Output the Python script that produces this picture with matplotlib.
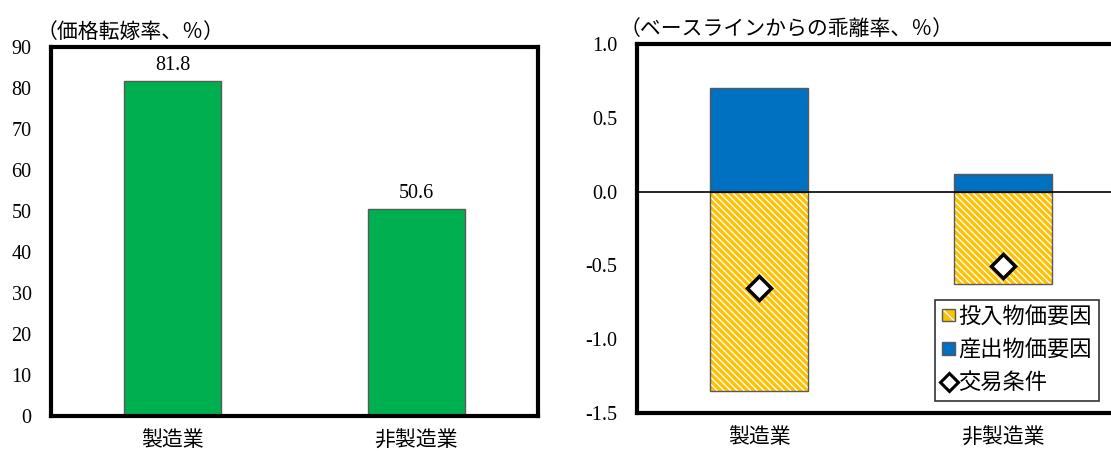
import matplotlib
matplotlib.use('Agg')
import matplotlib.pyplot as plt
import matplotlib.patches as mpatches
from matplotlib.lines import Line2D
from matplotlib.legend_handler import HandlerPatch

plt.rcParams['font.family'] = ['Liberation Serif', 'Noto Sans CJK JP']
plt.rcParams['hatch.linewidth'] = 1.0

# left panel data
categories = ['製造業', '非製造業']
pass_through = [81.8, 50.6]

# right panel data
input_factor = [-1.35, -0.625]
output_factor = [0.70, 0.12]
terms_of_trade = [-0.652, -0.506]

left_ticks = [0, 10, 20, 30, 40, 50, 60, 70, 80, 90]
right_ticks = [-1.5, -1.0, -0.5, 0.0, 0.5, 1.0]

W, H = 1111, 453
fig = plt.figure(figsize=(W / 100, H / 100), dpi=100)

def px_axes(x0, y0, x1, y1):
    return fig.add_axes([x0 / W, 1 - y1 / H, (x1 - x0) / W, (y1 - y0) / H])

yellow = '#FFC000'
blue = '#0070C0'
hatch = '\\' * 5
pos = [0, 1]

# ---- left: pass-through rate
ax1 = px_axes(51, 47, 538, 416)
ax1.bar(pos, pass_through, width=0.4, color='#00B050', edgecolor='#595959', linewidth=1)
for x, v in zip(pos, pass_through):
    ax1.text(x, v + 1.3, f'{v:.1f}', ha='center', va='bottom', fontsize=14.5)
ax1.set_xlim(-0.5, 1.5)
ax1.set_ylim(0, 90)
ax1.set_yticks(left_ticks)
ax1.set_xticks(pos)
ax1.set_xticklabels(categories)
ax1.text(-0.03, 1.012, '（価格転嫁率、％）', transform=ax1.transAxes, fontsize=15, ha='left', va='bottom')

# ---- right: deviation from baseline
ax2 = px_axes(637, 44, 1125, 413)
ax2.bar(pos, output_factor, width=0.4, color=blue, edgecolor='#595959', linewidth=1)
ax2.bar(pos, input_factor, width=0.4, facecolor=yellow, edgecolor='white', hatch=hatch, linewidth=0)
ax2.bar(pos, input_factor, width=0.4, fill=False, edgecolor='#595959', linewidth=1)
ax2.axhline(0, color='black', linewidth=1.2)
ax2.plot(pos, terms_of_trade, linestyle='none', marker='D', markersize=12,
         markerfacecolor='white', markeredgecolor='black', markeredgewidth=2.5, zorder=5)
ax2.set_xlim(-0.5, 1.5)
ax2.set_ylim(-1.5, 1.0)
ax2.set_yticks(right_ticks)
ax2.set_yticklabels([f'{t:.1f}' for t in right_ticks])
ax2.set_xticks(pos)
ax2.set_xticklabels(categories)
ax2.text(-0.035, 1.012, '（ベースラインからの乖離率、％）', transform=ax2.transAxes, fontsize=15, ha='left', va='bottom')


# small square legend keys
class BoxKey(HandlerPatch):
    def __init__(self, face, hatch=None):
        super().__init__()
        self.face = face
        self.hatch = hatch

    def create_artists(self, legend, orig_handle, xdescent, ydescent, width, height, fontsize, trans):
        s = height * 0.9
        x0 = -xdescent + (width - s) / 2
        y0 = -ydescent + (height - s) / 2
        out = []
        if self.hatch:
            out.append(mpatches.Rectangle((x0, y0), s, s, facecolor=self.face, edgecolor='white',
                                          hatch=self.hatch, linewidth=0, transform=trans))
            out.append(mpatches.Rectangle((x0, y0), s, s, fill=False, edgecolor='#595959',
                                          linewidth=1, transform=trans))
        else:
            out.append(mpatches.Rectangle((x0, y0), s, s, facecolor=self.face, edgecolor='#595959',
                                          linewidth=1, transform=trans))
        return out


h_in = mpatches.Patch()
h_out = mpatches.Patch()
h_tot = Line2D([], [], linestyle='none', marker='D', markersize=9, markerfacecolor='white',
               markeredgecolor='black', markeredgewidth=2.2)
labels = ['投入物価要因', '産出物価要因', '交易条件']
leg = ax2.legend([h_in, h_out, h_tot], labels, loc='lower left', bbox_to_anchor=(0.611, 0.0325),
                 borderaxespad=0, fontsize=16, frameon=True, fancybox=False,
                 handlelength=0.6, handleheight=0.6, handletextpad=0.15,
                 labelspacing=0.55, borderpad=0.3,
                 handler_map={h_in: BoxKey(yellow, '\\\\'), h_out: BoxKey(blue)})
leg.get_frame().set_edgecolor('black')
leg.get_frame().set_linewidth(1.2)

for ax in (ax1, ax2):
    for s in ax.spines.values():
        s.set_linewidth(3)
        s.set_color('black')
    ax.tick_params(axis='y', length=0, pad=14, labelsize=14.5)
    ax.tick_params(axis='x', length=0, pad=11, labelsize=15)

fig.savefig('out.png', dpi=100)
